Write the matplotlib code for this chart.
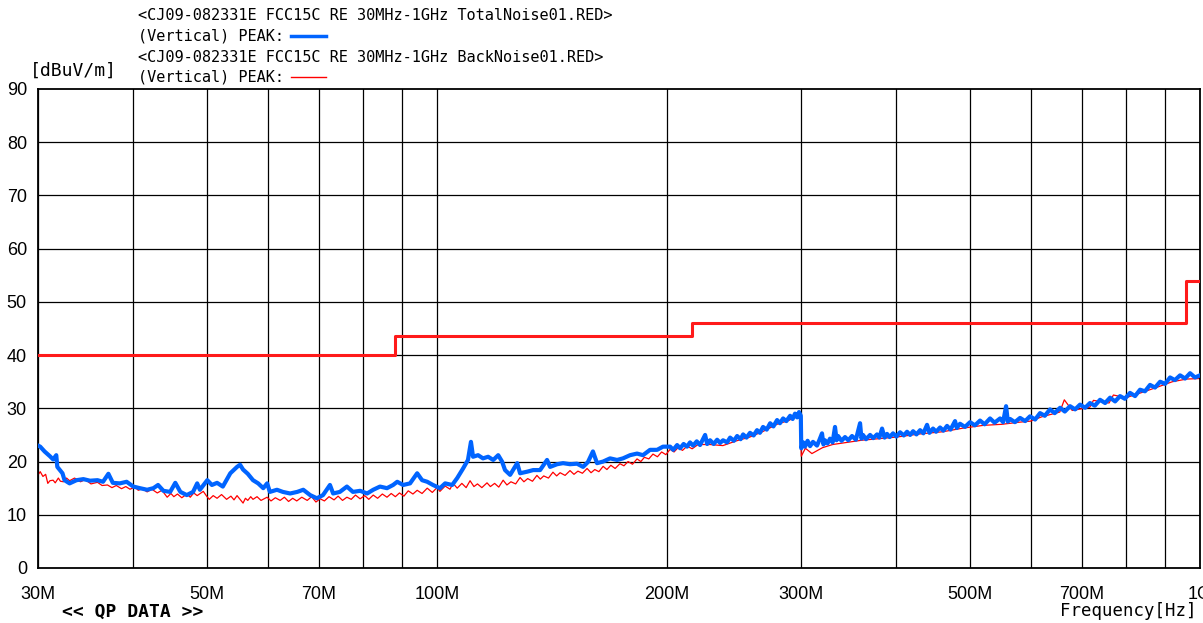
import matplotlib
matplotlib.use("Agg")
import matplotlib.pyplot as plt
from matplotlib.lines import Line2D

# ---- data (MHz, dBuV/m) ----
total_freq = [30.0, 30.2, 30.6, 31.1, 31.4, 31.7, 31.8, 32.3, 32.5, 33.0, 33.7, 34.4, 35.1, 35.9,
              36.5, 37.1, 37.6, 38.4, 39.2, 40.0, 40.8, 41.7, 42.5, 43.1, 43.8, 44.7, 45.4,
              46.1, 47.0, 47.9, 48.5, 48.9, 50.0, 50.7, 51.5, 52.4, 53.6, 54.7, 55.2, 55.7,
              56.5, 57.4, 58.3, 59.2, 59.9, 60.4, 61.7, 62.8, 64.2, 65.6, 66.8, 68.2, 69.6,
              70.9, 72.4, 73.1, 74.6, 76.2, 77.6, 79.3, 81.0, 82.5, 84.2, 86.0, 87.6, 88.7,
              90.3, 92.2, 94.2, 95.6, 97.1, 98.8, 100.9, 102.5, 104.7, 106.3, 108.2, 109.8,
              110.8, 111.5, 113.2, 114.9, 116.7, 118.5, 120.3, 121.7, 122.8, 124.7, 127.4,
              128.5, 131.3, 133.7, 136.5, 139.4, 140.7, 143.7, 146.3, 149.4, 152.6, 155.4,
              157.7, 160.1, 162.1, 165.1, 168.6, 172.2, 175.3, 179.1, 182.9, 186.2, 190.2,
              194.3, 197.8,
              202.1, 204.0, 206.4, 208.3, 210.5, 212.7, 214.6, 216.6, 219.0, 221.2, 224.6,
              226.0, 228.0, 230.5, 232.9, 235.0, 237.1, 240.0, 242.2, 245.0, 247.4, 250.0,
              251.9, 254.5, 257.2, 260.0, 262.7, 265.0, 267.5, 270.5, 273.3, 276.0, 279.1,
              281.5, 284.2, 287.0, 290.3, 292.5, 294.6, 296.5, 298.2, 299.8,
              300.2, 302.0, 303.6, 306.0, 308.3, 311.0, 314.8, 317.0, 319.6, 321.0, 322.5,
              325.0, 327.4, 330.0, 332.4, 334.0, 335.5, 339.0, 342.6, 346.0, 349.9, 354.0,
              358.5, 360.0, 361.7, 365.0, 369.5, 373.0, 377.3, 380.0, 383.1, 386.0, 388.9,
              392.0, 396.0, 400.0, 404.5, 409.0, 413.1, 417.0, 420.7, 425.0, 429.7, 434.0,
              438.8, 442.0, 446.8, 451.0, 456.4, 461.0, 466.1, 471.0, 477.5, 480.0, 484.7,
              492.0, 499.6, 507.0, 514.9, 522.0, 530.7, 538.0, 547.0, 552.0, 557.0, 560.0,
              563.8, 572.0, 581.0, 590.0, 598.7, 608.0, 617.1, 626.0, 636.0, 645.0, 655.5,
              665.0, 675.6, 686.0, 696.3, 707.0, 717.5, 728.0, 739.6, 751.0, 762.3, 774.0,
              785.6, 797.0, 809.6, 822.0, 834.5, 847.0, 860.0, 873.0, 886.6, 900.0, 913.6,
              927.0, 941.6, 956.0, 970.5, 985.0, 1000.0]
total_level = [23.0, 22.8, 21.9, 21.0, 20.4, 21.2, 19.0, 17.8, 16.5, 15.9, 16.5, 16.7, 16.4, 16.5,
               16.2, 17.7, 16.0, 15.9, 16.2, 15.3, 15.0, 14.7, 15.0, 15.6, 14.5, 14.3, 16.0,
               14.3, 13.7, 14.3, 15.9, 14.7, 16.5, 15.6, 16.0, 15.3, 17.8, 19.0, 19.4, 18.5,
               17.7, 16.5, 15.9, 15.0, 15.9, 14.3, 14.7, 14.3, 14.0, 14.3, 14.7, 13.7, 13.1,
               13.7, 15.6, 14.0, 14.3, 15.3, 14.3, 14.5, 14.0, 14.7, 15.3, 15.0, 15.6, 16.2,
               15.6, 15.9, 17.8, 16.5, 16.2, 15.6, 15.0, 15.9, 15.6, 16.9, 18.7, 20.3,
               23.7, 20.9, 21.2, 20.6, 20.9, 20.3, 21.2, 20.0, 18.4, 17.5, 19.7,
               17.8, 18.1, 18.4, 18.4, 20.3, 19.0, 19.5, 19.7, 19.5, 19.6, 19.0,
               19.9, 21.9, 19.7, 20.0, 20.6, 20.3, 20.6, 21.2, 21.5, 21.2, 22.2,
               22.2, 22.8,
               22.8, 22.2, 23.1, 22.5, 23.3, 22.8, 23.6, 23.0, 23.8, 23.1, 25.0,
               23.3, 24.0, 23.3, 24.1, 23.5, 24.0, 23.6, 24.5, 23.9, 24.8, 24.2,
               25.1, 24.5, 25.4, 24.9, 25.9, 25.4, 26.5, 26.0, 27.2, 26.6, 27.8,
               27.2, 28.1, 27.6, 28.6, 28.0, 29.0, 28.3, 29.3, 28.6,
               22.5, 23.6, 22.8, 23.9, 22.9, 23.7, 23.0, 24.0, 25.3, 23.2, 24.0,
               23.4, 24.3, 23.6, 26.5, 24.0, 24.8, 23.9, 24.6, 24.0, 24.8, 24.1,
               27.2, 24.3, 25.0, 24.2, 25.0, 24.4, 25.1, 24.5, 26.2, 24.5, 25.2,
               24.6, 25.3, 24.7, 25.5, 24.9, 25.6, 25.0, 25.7, 25.1, 25.9, 25.3,
               26.9, 25.4, 26.2, 25.6, 26.4, 25.8, 26.7, 26.0, 27.6, 26.3, 27.1,
               26.5, 27.4, 26.8, 27.7, 27.0, 28.1, 27.3, 28.1, 27.4, 30.4, 27.5,
               28.0, 27.4, 28.2, 27.6, 28.5, 27.9, 29.1, 28.6, 29.8, 29.1, 30.1,
               29.4, 30.4, 29.8, 30.7, 30.1, 31.0, 30.5, 31.6, 31.0, 32.0, 31.3,
               32.3, 31.8, 32.9, 32.3, 33.5, 33.2, 34.4, 33.9, 35.0, 34.6, 35.8,
               35.3, 36.2, 35.6, 36.6, 35.8, 36.2]

back_freq = [30.0, 30.2, 30.45, 30.7, 30.9, 31.1, 31.4, 31.6, 31.9, 32.1, 32.4, 32.7, 33.0, 33.5,
             34.1, 34.6, 35.2, 35.9, 36.4, 37.0, 37.5, 38.0, 38.6, 39.1, 39.6, 40.2, 40.6,
             41.1, 41.7, 42.3, 43.0, 43.6, 44.3, 44.8, 45.2, 45.7, 46.3, 47.0, 47.5, 48.0,
             48.5, 49.4, 49.9, 50.3, 50.9, 51.5, 52.2, 53.0, 53.7, 54.2, 54.7, 55.2, 55.7,
             56.1, 56.5, 57.0, 57.4, 58.1, 58.8, 59.9, 60.6, 61.4, 62.3, 63.1, 63.9, 64.7,
             65.5, 66.5, 67.6, 68.5, 69.4, 70.3, 71.2, 72.2, 73.3, 74.2, 75.2, 76.2, 77.2,
             78.2, 79.3, 80.4, 81.4, 82.5, 83.6, 84.8, 86.0, 87.1, 88.2, 89.3, 90.5, 91.7,
             93.0, 94.2, 95.6, 97.1, 98.6, 100.0, 100.9, 102.5, 104.0, 105.0, 106.3, 107.8,
             109.2, 110.5, 111.8, 113.0, 114.5, 116.3, 117.5, 119.0, 120.5, 122.1, 123.5,
             125.0, 126.8, 128.5, 130.0, 131.5, 133.4, 135.2, 136.6, 138.0, 140.0, 141.9,
             143.5, 145.0, 147.2, 149.4, 151.2, 153.0, 155.1, 157.3, 159.2, 161.0, 163.0,
             165.1, 167.0, 169.0, 171.2, 173.7, 175.8, 178.0, 180.4, 182.9, 185.0, 187.0,
             189.5, 191.9, 194.5, 197.0, 199.5, 202.1, 204.5, 207.0, 209.8, 212.7, 216.0,
             219.9, 228.0, 237.0, 247.0, 257.0, 267.0, 279.0, 290.0, 295.0, 299.5, 300.2,
             304.0, 310.0, 320.0, 330.0, 345.0, 360.0, 380.0, 400.0, 430.0, 460.0, 490.0,
             520.0, 550.0, 580.0, 600.0, 620.0, 655.0, 664.0, 680.0, 717.0, 725.0, 760.0,
             770.0, 800.0, 840.0, 880.0, 920.0, 960.0, 1000.0]
back_level = [17.5, 18.1, 17.2, 17.6, 15.9, 16.4, 16.5, 16.0, 16.9, 16.3, 16.2, 16.9, 16.4, 16.9,
              16.2, 16.6, 15.8, 16.1, 15.5, 15.6, 15.1, 15.5, 14.9, 15.3, 14.8, 15.2, 14.6,
              14.9, 14.3, 14.8, 14.1, 14.6, 13.3, 14.0, 13.4, 13.9, 13.2, 13.9, 13.3, 14.1,
              13.6, 14.4, 13.5, 12.9, 13.6, 13.1, 13.8, 12.9, 13.5, 12.8, 13.6, 12.9, 12.2,
              13.1, 12.7, 13.4, 12.9, 13.4, 12.7, 13.3, 12.6, 13.2, 12.7, 13.3, 12.5, 13.1,
              12.6, 13.3, 12.7, 13.4, 12.4, 13.0, 12.6, 13.4, 12.8, 13.5, 12.7, 13.3, 12.9,
              13.7, 13.0, 13.6, 12.9, 13.7, 13.1, 13.9, 13.3, 14.0, 13.4, 14.1, 13.5, 14.5,
              13.9, 14.6, 14.0, 15.0, 14.2, 15.1, 14.4, 15.4, 14.8, 15.9, 15.0, 15.9,
              15.1, 16.4, 15.3, 15.8, 15.1, 16.0, 15.3, 15.9, 15.2, 16.5, 15.6,
              16.2, 15.8, 17.0, 16.2, 16.8, 16.3, 17.4, 16.7, 17.3, 16.9, 18.0,
              17.3, 17.9, 17.4, 18.3, 17.6, 18.2, 17.8, 18.7, 17.9, 18.5, 18.1,
              19.1, 18.5, 19.3, 18.7, 19.6, 19.2, 20.0, 19.5, 20.5, 20.0, 20.8,
              20.5, 21.4, 20.9, 21.8, 21.3, 22.3, 21.8, 22.6, 22.1, 22.9, 22.4,
              23.2, 23.2, 23.0, 23.9, 24.6, 25.6, 27.0, 27.8, 28.9, 28.4, 21.0,
              22.5, 21.5, 22.6, 23.2, 23.6, 24.0, 24.3, 24.6, 25.2, 25.6, 26.3,
              26.8, 27.0, 27.4, 27.6, 28.4, 29.3, 31.6, 29.6, 30.2, 31.5, 31.0,
              32.5, 32.0, 33.0, 34.0, 35.0, 35.5, 35.6]

# FCC class B limit (3 m)
limit_freq = [30, 88, 216, 960, 1000]
limit_level = [40, 43.5, 46, 54, 54]

xtick_vals = [30, 50, 70, 100, 200, 300, 500, 700, 1000]
xtick_labels = ["30M", "50M", "70M", "100M", "200M", "300M", "500M", "700M", "1G"]
xgrid_vals = [30, 40, 50, 60, 70, 80, 90, 100, 200, 300, 400, 500, 600, 700, 800, 900, 1000]

W, H = 1203, 623
fig = plt.figure(figsize=(W / 100, H / 100), dpi=100)
ax = fig.add_axes([38 / W, 1 - 568 / H, (1200 - 38) / W, (568 - 89) / H])

ax.set_xscale("log")
ax.set_xlim(30, 1000)
ax.set_ylim(0, 90)

for f in xgrid_vals:
    ax.axvline(f, color="black", lw=0.9, zorder=1)
for v in range(10, 90, 10):
    ax.axhline(v, color="black", lw=0.9, zorder=1)

ax.plot(back_freq, back_level, color="#ff0000", lw=0.9, zorder=2)
ax.plot(total_freq, total_level, color="#0064ff", lw=3.0, zorder=3)
ax.step(limit_freq, limit_level, where="post", color="#ff1a1a", lw=2.2, zorder=4)

ax.set_xticks(xtick_vals)
ax.set_xticklabels(xtick_labels)
ax.xaxis.set_minor_locator(matplotlib.ticker.NullLocator())
ax.set_yticks(range(0, 91, 10))
ax.tick_params(length=0, labelsize=13)
ax.tick_params(axis="y", pad=8)
ax.tick_params(axis="x", pad=13)
for lab in ax.get_xticklabels() + ax.get_yticklabels():
    lab.set_family("Liberation Sans")
for s in ax.spines.values():
    s.set_linewidth(1.3)

mono = "DejaVu Sans Mono"
fig.text(138 / W, 1 - 15 / H, "<CJ09-082331E FCC15C RE 30MHz-1GHz TotalNoise01.RED>",
         family=mono, fontsize=11.0, va="center")
fig.text(138 / W, 1 - 36 / H, "(Vertical) PEAK:", family=mono, fontsize=11.0, va="center")
fig.text(138 / W, 1 - 57 / H, "<CJ09-082331E FCC15C RE 30MHz-1GHz BackNoise01.RED>",
         family=mono, fontsize=11.0, va="center")
fig.text(138 / W, 1 - 77 / H, "(Vertical) PEAK:", family=mono, fontsize=11.0, va="center")
fig.add_artist(Line2D([291 / W, 326 / W], [1 - 36 / H, 1 - 36 / H], color="#0064ff", lw=2.5))
fig.add_artist(Line2D([291 / W, 326 / W], [1 - 77 / H, 1 - 77 / H], color="#ff0000", lw=1.0))

fig.text(30 / W, 1 - 71 / H, "[dBuV/m]", family=mono, fontsize=13, va="center")
fig.text(62 / W, 1 - 612 / H, "<< QP DATA >>", family=mono, fontsize=13,
         va="center", weight="bold")
fig.text(1197 / W, 1 - 611 / H, "Frequency[Hz]", family=mono, fontsize=12.5,
         va="center", ha="right")

fig.savefig("out.png", dpi=100)
